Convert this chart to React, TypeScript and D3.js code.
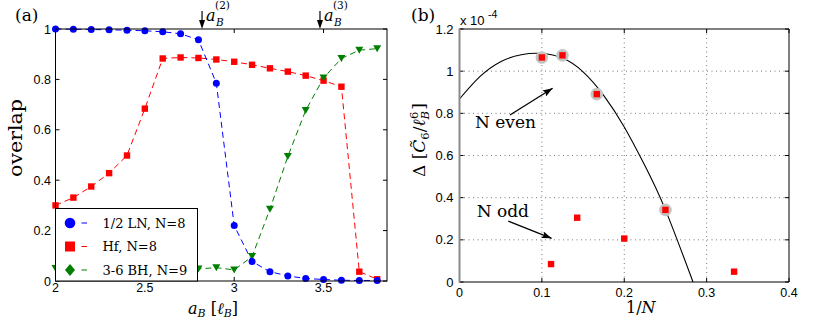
import React from 'react';
import * as d3 from 'd3';

// ---- panel (a): overlap vs a_B ----
const aB = [2.0, 2.1, 2.2, 2.3, 2.4, 2.5, 2.6, 2.7, 2.8, 2.9, 3.0, 3.1, 3.2, 3.3, 3.4, 3.5, 3.6, 3.7, 3.8];
const lnOverlap = [1.0, 0.999, 0.998, 0.997, 0.995, 0.993, 0.989, 0.981, 0.957, 0.785, 0.22, 0.077, 0.037, 0.02, 0.01, 0.006, 0.003, 0.002, 0.002];
const hfOverlap = [0.3, 0.331, 0.375, 0.428, 0.498, 0.684, 0.883, 0.887, 0.885, 0.879, 0.87, 0.858, 0.844, 0.831, 0.815, 0.795, 0.771, 0.037, 0.007];
const bhOverlap = [0.05, 0.05, 0.05, 0.05, 0.05, 0.05, 0.05, 0.05, 0.048, 0.053, 0.044, 0.097, 0.285, 0.494, 0.677, 0.806, 0.883, 0.916, 0.922];
const aTicksX = [2, 2.5, 3, 3.5];
const aTicksY = [0, 0.2, 0.4, 0.6, 0.8, 1];
const transitions = [{ x: 2.82, label: '(2)' }, { x: 3.48, label: '(3)' }];
const legendLabels = ['1/2 LN, N=8', 'Hf, N=8', '3-6 BH, N=9'];

// ---- panel (b): gap vs 1/N (units of 1e-4) ----
const evenInvN = [1 / 10, 1 / 8, 1 / 6, 1 / 4];
const evenGap = [1.065, 1.075, 0.891, 0.342];
const oddInvN = [1 / 9, 1 / 7, 1 / 5, 1 / 3];
const oddGap = [0.085, 0.305, 0.206, 0.049];
const fitInvN = [0, 0.025, 0.05, 0.075, 0.1, 0.125, 0.15, 0.175, 0.2, 0.225, 0.25, 0.2835];
const fitGap = [0.868, 0.975, 1.045, 1.078, 1.084, 1.062, 0.997, 0.885, 0.735, 0.552, 0.342, 0];
const bTicksX = [0, 0.1, 0.2, 0.3, 0.4];
const bTicksY = [0, 0.2, 0.4, 0.6, 0.8, 1, 1.2];

const SERIF = '"DejaVu Serif", "Liberation Serif", serif';
const SANS = '"Liberation Sans", Arial, sans-serif';
const BLUE = '#0000ff';
const RED = '#ff0000';
const GREEN = '#007f00';

const App = () => {
  const xA = d3.scaleLinear().domain([2, 3.855]).range([55.5, 387]);
  const yA = d3.scaleLinear().domain([0, 1]).range([281, 29]);
  const xB = d3.scaleLinear().domain([0, 0.4]).range([459.5, 789]);
  const yB = d3.scaleLinear().domain([0, 1.2]).range([282, 29]);

  const lineA = (vals: number[]) =>
    d3.line<number>().x((_, i) => xA(aB[i])).y(d => yA(d))(vals) || '';
  const fitPath =
    d3.line<number>().x((_, i) => xB(fitInvN[i])).y(d => yB(d)).curve(d3.curveNatural)(fitGap) || '';

  const tri = (cx: number, cy: number) => `M${cx - 4},${cy - 3.5}L${cx + 4},${cy - 3.5}L${cx},${cy + 3.5}Z`;

  const [ax0, ax1] = xA.range();
  const [ay0, ay1] = yA.range();
  const [bx0, bx1] = xB.range();
  const [by0, by1] = yB.range();

  return (
    <svg width={830} height={322} style={{ position: 'absolute', left: 0, top: 0, background: '#fff' }}>
      <defs>
        <marker id="arr" markerUnits="userSpaceOnUse" markerWidth="11" markerHeight="7" refX="10" refY="3.5" orient="auto">
          <path d="M0,0L10,3.5L0,7L2,3.5Z" fill="#000" />
        </marker>
      </defs>

      {/* ---------- panel (a) ---------- */}
      <text x={15} y={21} fontFamily={SERIF} fontSize={17}>(a)</text>

      {/* ticks */}
      {aTicksX.map(t => (
        <g key={'ax' + t}>
          <line x1={xA(t)} x2={xA(t)} y1={ay0} y2={ay0 - 4} stroke="#000" />
          <line x1={xA(t)} x2={xA(t)} y1={ay1} y2={ay1 + 4} stroke="#000" />
          <text x={xA(t)} y={292} textAnchor="middle" fontFamily={SANS} fontSize={12.5}>{t}</text>
        </g>
      ))}
      {aTicksY.map(t => (
        <g key={'ay' + t}>
          <line x1={ax0} x2={ax0 + 4} y1={yA(t)} y2={yA(t)} stroke="#000" />
          <line x1={ax1} x2={ax1 - 4} y1={yA(t)} y2={yA(t)} stroke="#000" />
          <text x={51} y={yA(t) + 4.5} textAnchor="end" fontFamily={SANS} fontSize={12.5}>{t}</text>
        </g>
      ))}

      {/* series */}
      <path d={lineA(hfOverlap)} fill="none" stroke={RED} strokeWidth={1} strokeDasharray="6,4" />
      <path d={lineA(bhOverlap)} fill="none" stroke={GREEN} strokeWidth={1} strokeDasharray="6,4" />
      <path d={lineA(lnOverlap)} fill="none" stroke={BLUE} strokeWidth={1} strokeDasharray="6,4" />
      {hfOverlap.map((v, i) => (
        <rect key={'hf' + i} x={xA(aB[i]) - 3.2} y={yA(v) - 3.2} width={6.4} height={6.4} fill={RED} />
      ))}
      {bhOverlap.map((v, i) => (
        <path key={'bh' + i} d={tri(xA(aB[i]), yA(v))} fill={GREEN} />
      ))}
      {lnOverlap.map((v, i) => (
        <circle key={'ln' + i} cx={xA(aB[i])} cy={yA(v)} r={3.5} fill={BLUE} />
      ))}

      <rect x={ax0} y={ay1} width={ax1 - ax0} height={ay0 - ay1} fill="none" stroke="#000" strokeWidth={1} />

      {/* transition arrows */}
      {transitions.map(t => {
        const x = xA(t.x);
        return (
          <g key={t.label}>
            <line x1={x} x2={x} y1={11} y2={26} stroke="#000" strokeWidth={1.2} />
            <path d={`M${x - 3},${20}L${x},${ay1}L${x + 3},${20}Z`} fill="#000" />
            <text x={x + 4} y={21} fontFamily={SERIF} fontSize={16} fontStyle="italic">a</text>
            <text x={x + 14} y={26} fontFamily={SERIF} fontSize={10.5} fontStyle="italic">B</text>
            <text x={x + 13} y={9} fontFamily={SERIF} fontSize={10.5}>{t.label}</text>
          </g>
        );
      })}

      {/* legend */}
      <rect x={ax0} y={208.5} width={142} height={ay0 - 208.5} fill="#fff" stroke="#000" strokeWidth={1} />
      {legendLabels.map((lab, i) => {
        const y = 223 + i * 23.5;
        const color = [BLUE, RED, GREEN][i];
        return (
          <g key={lab}>
            {i === 0 && <circle cx={70} cy={y} r={5.3} fill={color} />}
            {i === 1 && <rect x={65} y={y - 5} width={10} height={10} fill={color} />}
            {i === 2 && <path d={`M70,${y - 6}L75,${y}L70,${y + 6}L65,${y}Z`} fill={color} />}
            <line x1={81.5} x2={87} y1={y} y2={y} stroke={color} strokeWidth={1} />
            <text x={102.5} y={y + 4.5} fontFamily={SERIF} fontSize={13}>{lab}</text>
          </g>
        );
      })}

      {/* axis labels */}
      <text transform="translate(22,138) rotate(-90)" textAnchor="middle" fontFamily={SERIF} fontSize={18}
        textLength={78} lengthAdjust="spacingAndGlyphs">overlap</text>
      <text x={188} y={314} fontFamily={SERIF} fontSize={16}>
        <tspan fontStyle="italic">a</tspan>
        <tspan fontStyle="italic" fontSize={11} dy={3}>B</tspan>
        <tspan dy={-3}>{' ['}</tspan>
        <tspan fontStyle="italic">ℓ</tspan>
        <tspan fontStyle="italic" fontSize={11} dy={3}>B</tspan>
        <tspan dy={-3}>]</tspan>
      </text>

      {/* ---------- panel (b) ---------- */}
      <text x={411} y={21} fontFamily={SERIF} fontSize={17}>(b)</text>
      <text x={460} y={25} fontFamily={SANS} fontSize={13}>x 10</text>
      <text x={488} y={18} fontFamily={SANS} fontSize={10.5}>-4</text>

      {/* grid */}
      {bTicksX.slice(1, -1).map(t => (
        <line key={'gx' + t} x1={xB(t)} x2={xB(t)} y1={by0} y2={by1} stroke="#555" strokeWidth={0.8} strokeDasharray="1,3.5" />
      ))}
      {bTicksY.slice(1, -1).map(t => (
        <line key={'gy' + t} x1={bx0} x2={bx1} y1={yB(t)} y2={yB(t)} stroke="#555" strokeWidth={0.8} strokeDasharray="1,3.5" />
      ))}
      {bTicksX.map(t => (
        <g key={'bx' + t}>
          <line x1={xB(t)} x2={xB(t)} y1={by0} y2={by0 - 4} stroke="#000" />
          <line x1={xB(t)} x2={xB(t)} y1={by1} y2={by1 + 4} stroke="#000" />
          <text x={xB(t)} y={297} textAnchor="middle" fontFamily={SANS} fontSize={12.5}>{t}</text>
        </g>
      ))}
      {bTicksY.map(t => (
        <g key={'by' + t}>
          <line x1={bx0} x2={bx0 + 4} y1={yB(t)} y2={yB(t)} stroke="#000" />
          <line x1={bx1} x2={bx1 - 4} y1={yB(t)} y2={yB(t)} stroke="#000" />
          <text x={453.5} y={yB(t) + 4.6} textAnchor="end" fontFamily={SANS} fontSize={13}>{t}</text>
        </g>
      ))}

      {/* fit + data */}
      <path d={fitPath} fill="none" stroke="#000" strokeWidth={1.1} />
      {evenGap.map((v, i) => (
        <circle key={'halo' + i} cx={xB(evenInvN[i])} cy={yB(v)} r={6.3} fill="#c4c4c4" />
      ))}
      {evenGap.map((v, i) => (
        <rect key={'ev' + i} x={xB(evenInvN[i]) - 3.2} y={yB(v) - 3.2} width={6.4} height={6.4} fill={RED} />
      ))}
      {oddGap.map((v, i) => (
        <rect key={'od' + i} x={xB(oddInvN[i]) - 3.2} y={yB(v) - 3.2} width={6.4} height={6.4} fill={RED} />
      ))}

      <line x1={bx1} x2={bx1} y1={by0} y2={by1} stroke="#000" />
      <line x1={bx0} x2={bx1} y1={by0} y2={by0} stroke="#000" />
      <line x1={bx0} x2={bx1} y1={by1} y2={by1} stroke="#000" />
      <line x1={bx0} x2={bx0} y1={by0 + 0.5} y2={by1 - 0.5} stroke="#8a8a8a" strokeWidth={2} />

      {/* annotations */}
      <line x1={xB(0.0613)} y1={yB(0.792)} x2={xB(0.113)} y2={yB(0.919)} stroke="#000" strokeWidth={1.3} markerEnd="url(#arr)" />
      <text x={xB(0.0188)} y={yB(0.731)} fontFamily={SERIF} fontSize={17}>N even</text>
      <line x1={xB(0.0592)} y1={yB(0.289)} x2={xB(0.1118)} y2={yB(0.207)} stroke="#000" strokeWidth={1.3} markerEnd="url(#arr)" />
      <text x={xB(0.0209)} y={yB(0.31)} fontFamily={SERIF} fontSize={17}>N odd</text>

      {/* axis labels */}
      <text x={626} y={313} fontFamily={SERIF} fontSize={16}>
        1/<tspan fontStyle="italic">N</tspan>
      </text>
      <text transform="translate(425,140) rotate(-90)" textAnchor="middle" fontFamily={SERIF} fontSize={17}>
        <tspan>{'Δ ['}</tspan>
        <tspan fontStyle="italic">{'C\u0303'}</tspan>
        <tspan fontSize={11.5} dy={4}>6</tspan>
        <tspan dy={-4}>/</tspan>
        <tspan fontStyle="italic">ℓ</tspan>
        <tspan fontStyle="italic" fontSize={11.5} dy={4}>B</tspan>
        <tspan fontSize={11.5} dx={-8} dy={-11}>6</tspan>
        <tspan dy={7} dx={2}>]</tspan>
      </text>
    </svg>
  );
};

export default App;
